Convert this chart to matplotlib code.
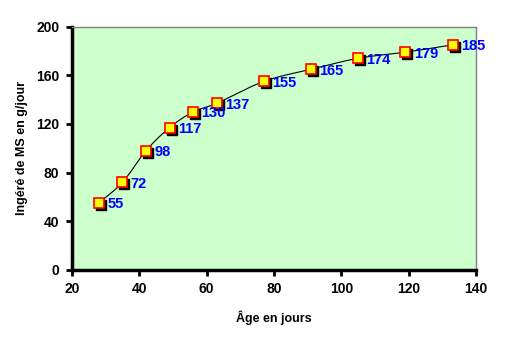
import numpy as np
import matplotlib.pyplot as plt
import matplotlib.transforms as mtransforms

plt.rcParams['font.family'] = ['Liberation Sans', 'DejaVu Sans']

age = [28, 35, 42, 49, 56, 63, 77, 91, 105, 119, 133]
ingere = [55, 72, 98, 117, 130, 137, 155, 165, 174, 179, 185]


def smooth(x, y, n=20):  # courbe lissee type Catmull-Rom entre les points
    x = np.asarray(x, float)
    y = np.asarray(y, float)
    px = np.concatenate([[2 * x[0] - x[1]], x, [2 * x[-1] - x[-2]]])
    py = np.concatenate([[2 * y[0] - y[1]], y, [2 * y[-1] - y[-2]]])
    xs, ys = [], []
    t = np.linspace(0, 1, n)
    for i in range(1, len(px) - 2):
        for p, out in ((px, xs), (py, ys)):
            p0, p1, p2, p3 = p[i - 1], p[i], p[i + 1], p[i + 2]
            c1 = p1 + (p2 - p0) / 6
            c2 = p2 - (p3 - p1) / 6
            out.extend((1 - t) ** 3 * p1 + 3 * (1 - t) ** 2 * t * c1 + 3 * (1 - t) * t ** 2 * c2 + t ** 3 * p2)
    return np.array(xs), np.array(ys)


fig = plt.figure(figsize=(5.25, 3.37), dpi=100)
ax = fig.add_axes([0.137, 0.199, 0.770, 0.722])
ax.set_facecolor('#ccffcc')

sx, sy = smooth(age, ingere)
ax.plot(sx, sy, color='black', lw=0.8, zorder=2)

shadow = mtransforms.offset_copy(ax.transData, fig=fig, x=2, y=-2, units='dots')
ax.plot(age, ingere, 's', ms=6.5, color='black', mec='black', transform=shadow, zorder=3)
ax.plot(age, ingere, 's', ms=6.5, color='#ffff00', mec='#ff0000', mew=1.2, zorder=4)

for a, v in zip(age, ingere):
    ax.annotate(str(v), (a, v), xytext=(6, -1), textcoords='offset points',
                color='#0000ff', fontsize=10.5, fontweight='bold', va='center', ha='left',
                zorder=5, annotation_clip=False)

ax.set_xlim(20, 140)
ax.set_ylim(0, 200)
ax.set_xticks(range(20, 141, 20))
ax.set_yticks(range(0, 201, 40))
ax.tick_params(direction='out', length=4, width=2, labelsize=10, pad=5)
for lab in ax.get_xticklabels() + ax.get_yticklabels():
    lab.set_fontweight('bold')

for s in ['left', 'bottom']:
    ax.spines[s].set_linewidth(2.5)
    ax.spines[s].set_color('black')
for s in ['top', 'right']:
    ax.spines[s].set_linewidth(1)
    ax.spines[s].set_color('#808080')

ax.set_xlabel('Âge en jours', fontsize=9, fontweight='bold', labelpad=10)
ax.set_ylabel('Ingéré de MS en g/jour', fontsize=9, fontweight='bold', labelpad=6)

fig.savefig('out.png', dpi=100)
